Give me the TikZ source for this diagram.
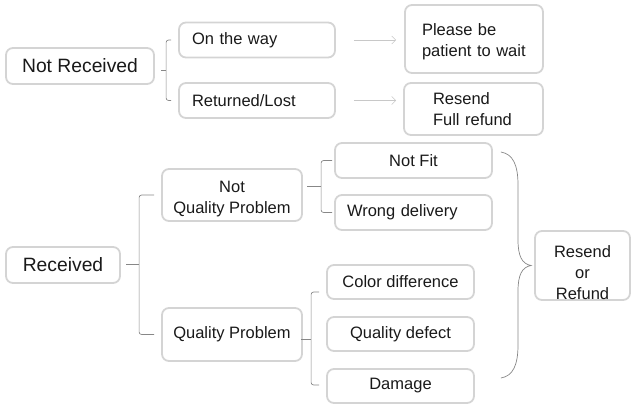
\documentclass[tikz,border=0pt]{standalone}
\usepackage{fontspec}
\setmainfont{Liberation Sans}
\usetikzlibrary{arrows.meta}
\usetikzlibrary{calc}
\definecolor{boxgray}{RGB}{212,212,212}
\definecolor{brkgray}{RGB}{135,135,135}
\definecolor{arrgray}{RGB}{200,200,200}
\definecolor{txt}{RGB}{25,25,25}

\begin{document}
\begin{tikzpicture}[x=1pt,y=-1pt]
	\useasboundingbox (0,0) rectangle (637,410);
	\begin{scope}[every node/.style={draw=boxgray,line width=1.8pt,rounded corners=7pt,text=txt,inner sep=0pt,font=\fontsize{16.5}{21}\selectfont}]
		\node[minimum width=148,minimum height=36,font=\fontsize{19.3}{23}\selectfont] (nr) at (80,66) {Not Received};
		\node[text width=130,inner xsep=13,minimum height=35,align=left] (ow) at (257,40) {On the way};
		\node[text width=130,inner xsep=13,minimum height=35,align=left] (rl) at (257,100.5) {Returned/Lost};
		\node[text width=104,inner xsep=17,minimum height=68,align=left] (pw) at (474,39) {\rule{0pt}{18pt}Please be\\patient to wait};
		\node[text width=81,inner xsep=29,minimum height=52,align=left] (rf) at (473.5,109) {Resend\\Full refund};

		\node[minimum width=114,minimum height=36,font=\fontsize{19.3}{23}\selectfont] (rc) at (63,265) {Received};
		\node[minimum width=140,minimum height=52,align=center] (nqp) at (232,195) {\rule{0pt}{19pt}Not\\Quality Problem};
		\node[minimum width=140,minimum height=53] (qp) at (232,334.5) {Quality Problem};
		\node[minimum width=157,minimum height=35] (nf) at (413.5,160.5) {Not Fit};
		\node[text width=133,inner xsep=12,minimum height=35,align=left] (wd) at (413.5,212.5) {Wrong delivery};
		\node[minimum width=147,minimum height=34] (cd) at (400.5,282) {Color difference};
		\node[minimum width=147,minimum height=34] (qd) at (400.5,334) {Quality defect};
		\node[minimum width=147,minimum height=34] (dm) at (400.5,386) {Damage};
		\node[minimum width=95,minimum height=69,align=center] (rr) at (582.5,265.5) {\rule{0pt}{26pt}Resend\\or\\Refund};
	\end{scope}

	\begin{scope}[brk/.style={draw=brkgray,line width=0.7pt,rounded corners=2.5pt}]
		% not received
		\draw[brk] ([xshift=-7]ow.west) -- ++(-5,0) -- ([xshift=-12]rl.west) -- ++(5,0);
		\draw[brk] ($([xshift=-12]ow.west)!0.5!([xshift=-12]rl.west)$) -- ++(-5,0);
		% received
		\draw[brk] ([xshift=-7]nqp.west) -- ++(-15,0) -- ([xshift=-22]qp.west) -- ++(15,0);
		\draw[brk] ($([xshift=-22]nqp.west)!0.5!([xshift=-22]qp.west)$) -- ++(-13,0);
		% not quality problem
		\draw[brk] ([xshift=-2]nf.west) -- ++(-11,0) -- ([xshift=-13]wd.west) -- ++(11,0);
		\draw[brk] ($([xshift=-13]nf.west)!0.5!([xshift=-13]wd.west)$) -- ++(-14,0);
		% quality problem
		\draw[brk] ($(cd.west)+(-7,10)$) -- ++(-8,0) -- ($(dm.west)+(-15,-1)$) -- ++(8,0);
		\draw[brk] ($(cd.west)!0.5!(dm.west)+(-15,5)$) -- ++(-10,0);
	\end{scope}

	% big brace
	\coordinate (bt) at ($(nf.east)+(8,-8.5)$);
	\coordinate (bb) at ($(dm.east)+(26,-8)$);
	\coordinate (tip) at ([xshift=-3]rr.west);
	\draw[draw=brkgray,line width=0.7pt] (bt) .. controls (513,154) and (518,165) .. (518,185) -- (518,240)
		.. controls (518,256) and (522,264) .. (tip) .. controls (522,267) and (518,275) .. (518,291) -- (518,345)
		.. controls (518,365) and (513,376) .. (bb);

	\begin{scope}[>={Straight Barb[length=4pt,width=8pt]}]
		\draw[->,draw=arrgray,line width=0.6pt] ([xshift=18]ow.east) -- ([xshift=-8]ow.east -| pw.west);
		\draw[->,draw=arrgray,line width=0.6pt] ([xshift=18]rl.east) -- ([xshift=-7]rl.east -| rf.west);
	\end{scope}
\end{tikzpicture}
\end{document}
